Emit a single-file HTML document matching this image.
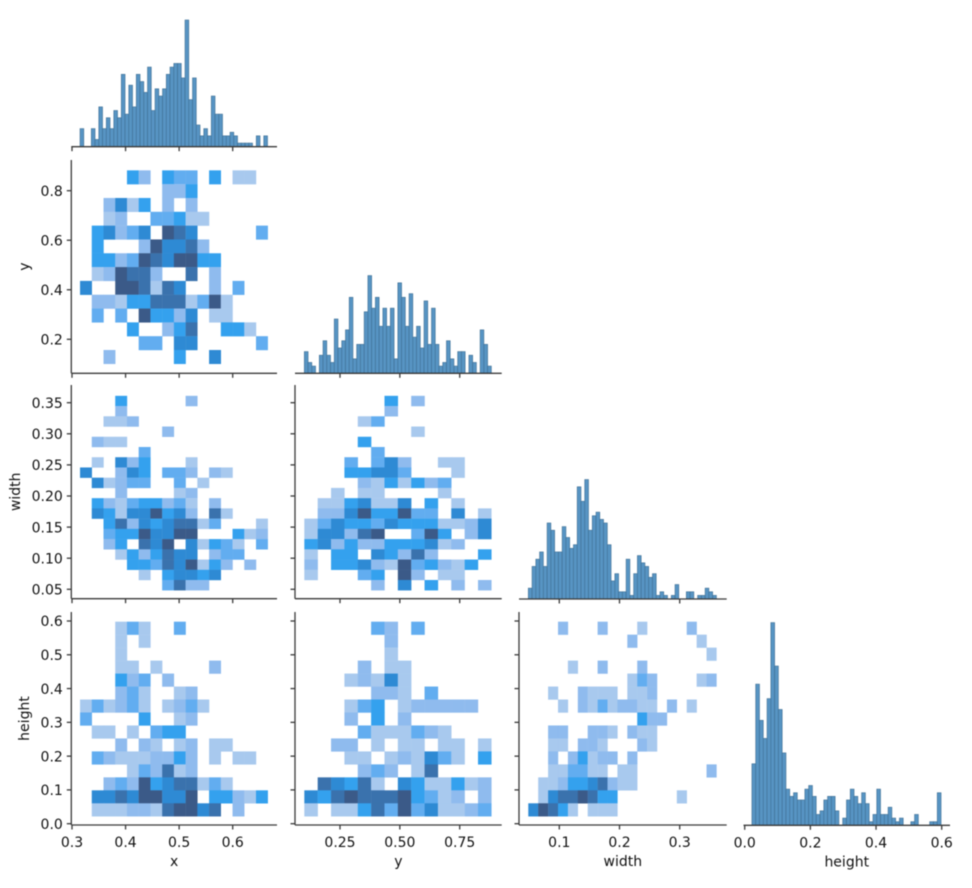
<!DOCTYPE html>
<html lang="en">
<head>
<meta charset="utf-8">
<title>Pair plot of x, y, width, height</title>
<style>
  html, body { margin: 0; padding: 0; background: #fff; }
  #chart { display: block; width: 972px; height: 888px; filter: blur(0.45px); }
  text { font-family: "DejaVu Sans", "Liberation Sans", sans-serif; fill: #111; }
</style>
</head>
<body>
<svg id="chart" xmlns="http://www.w3.org/2000/svg" width="972" height="888" viewBox="0 0 972 888"></svg>
<script>
// ---- axis tick labels
const xTickLabels = ["0.3", "0.4", "0.5", "0.6"];
const yBottomTickLabels = ["0.25", "0.50", "0.75"];
const widthBottomTickLabels = ["0.1", "0.2", "0.3"];
const heightBottomTickLabels = ["0.0", "0.2", "0.4", "0.6"];
const yLeftTickLabels = ["0.2", "0.4", "0.6", "0.8"];
const widthLeftTickLabels = ["0.05", "0.10", "0.15", "0.20", "0.25", "0.30", "0.35"];
const heightLeftTickLabels = ["0.0", "0.1", "0.2", "0.3", "0.4", "0.5", "0.6"];
const variableNames = ["x", "y", "width", "height"];

// ---- histogram counts (50 bins each)
const xHistCounts = [5,0,0,5,2,11,5,8,5,10,8,20,9,17,11,20,18,15,22,10,16,14,16,20,22,23,23,19,35,13,19,6,3,5,3,14,9,9,3,3,4,3,1,1,1,1,0,3,0,3];
const yHistCounts = [6,3,2,0,5,9,5,3,15,7,9,12,21,4,8,8,17,27,18,21,13,18,13,18,4,25,21,13,22,10,13,7,20,8,18,8,2,3,9,4,2,6,6,0,5,3,0,12,8,2];
const widthHistCounts = [3,9,11,13,9,21,19,13,13,20,17,14,15,31,27,33,19,23,24,22,21,15,5,7,2,2,11,1,7,12,10,9,6,7,1,2,1,0,1,4,0,0,2,2,0,1,1,3,2,1];
const heightHistCounts = [17,39,29,24,35,56,44,32,20,10,8,9,7,7,10,11,8,3,4,7,8,8,4,0,2,7,10,8,6,9,6,1,3,10,3,3,5,2,1,2,0,0,1,3,0,0,0,1,1,9];

// ---- heatmap cell levels, rows listed top to bottom
const xyGrid = [
  [0,0,0,0,4,2,0,4,3,3,0,4,0,1,1,0],
  [0,0,0,0,0,0,0,2,2,4,0,0,0,0,0,0],
  [0,0,2,5,1,4,0,2,0,2,0,0,0,0,0,0],
  [0,0,1,2,0,0,3,3,4,1,1,0,0,0,0,0],
  [0,4,5,2,3,5,0,7,6,5,0,0,0,0,0,3],
  [0,4,0,0,0,2,7,5,5,6,2,0,0,0,0,0],
  [0,4,4,2,3,7,6,5,7,7,4,4,0,0,0,0],
  [0,1,2,7,6,6,2,0,0,6,0,2,0,0,0,0],
  [5,0,0,7,7,6,1,6,5,0,0,2,0,3,0,0],
  [0,2,2,1,4,4,6,6,6,1,3,7,1,0,0,0],
  [0,3,0,3,0,7,4,4,2,5,0,1,1,0,0,0],
  [0,0,0,0,4,0,0,2,4,6,0,0,4,4,1,0],
  [0,0,0,0,0,3,3,0,5,5,0,0,0,0,0,3],
  [0,0,2,0,0,0,0,0,4,0,0,5,0,0,0,0]
];
const xWidthGrid = [
  [0,0,0,4,0,0,0,0,0,2,0,0,0,0,0,0],
  [0,0,0,2,0,0,0,0,0,0,0,0,0,0,0,0],
  [0,0,1,1,2,0,0,0,0,0,0,0,0,0,0,0],
  [0,0,0,0,0,0,0,2,0,0,0,0,0,0,0,0],
  [0,2,1,1,0,0,0,0,0,0,0,0,0,0,0,0],
  [0,0,0,0,0,3,0,0,0,0,0,0,0,0,0,0],
  [0,1,0,5,2,4,0,0,0,1,0,0,0,0,0,0],
  [5,0,0,2,5,4,0,3,3,2,0,2,1,0,0,0],
  [0,5,1,2,3,3,0,0,3,0,1,0,0,0,0,0],
  [0,0,0,2,0,0,0,0,1,2,0,0,0,0,0,0],
  [0,4,2,1,3,4,4,2,3,1,0,2,0,0,0,0],
  [0,5,4,1,5,5,7,4,5,2,0,6,1,0,0,0],
  [0,0,4,6,2,5,4,5,6,6,1,3,0,0,0,1],
  [0,0,3,4,4,7,5,5,7,7,0,0,0,4,1,2],
  [0,0,2,4,0,6,5,7,0,5,1,4,3,1,0,3],
  [0,0,0,1,4,2,4,6,5,5,0,2,3,3,0,0],
  [0,0,0,0,4,4,3,6,5,7,1,4,2,0,2,0],
  [0,0,0,0,0,1,0,4,5,5,4,5,0,0,0,0],
  [0,0,0,0,0,0,0,3,6,2,2,0,0,0,0,0]
];
const xHeightGrid = [
  [0,0,0,1,3,1,0,0,3,0,0,0,0,0,0,0],
  [0,0,0,1,0,1,0,0,0,0,0,0,0,0,0,0],
  [0,0,0,1,0,0,0,0,0,0,0,0,0,0,0,0],
  [0,0,0,1,1,0,1,0,0,0,0,2,0,0,0,0],
  [0,0,0,4,2,3,0,2,0,0,0,0,0,0,0,0],
  [0,0,0,2,3,1,0,0,1,2,0,0,0,0,0,0],
  [1,3,1,2,3,1,0,1,2,3,1,0,0,0,0,0],
  [3,0,0,0,0,4,0,0,1,2,0,0,0,0,0,0],
  [0,1,1,0,1,0,3,4,4,0,0,0,0,0,0,0],
  [0,0,0,2,0,2,1,0,1,2,0,1,1,0,0,0],
  [0,3,2,1,1,1,2,2,4,2,0,1,0,1,1,0],
  [0,0,0,0,1,3,2,6,1,2,0,0,0,0,0,0],
  [0,0,2,3,2,7,4,5,6,6,1,3,1,0,0,0],
  [0,5,5,6,5,7,7,5,5,7,0,4,4,2,1,4],
  [0,1,1,1,2,2,1,6,7,7,5,6,0,2,0,0]
];
const yWidthGrid = [
  [0,0,0,0,0,0,4,0,2,0,0,0,0,0],
  [0,0,0,0,0,0,2,0,0,0,0,0,0,0],
  [0,0,0,0,1,3,0,0,0,0,0,0,0,0],
  [0,0,0,0,0,0,0,0,1,0,0,0,0,0],
  [0,0,0,0,4,0,0,0,0,0,0,0,0,0],
  [0,0,0,0,0,3,0,0,0,0,0,0,0,0],
  [0,0,0,3,0,3,5,2,0,0,1,1,0,0],
  [0,0,0,4,4,5,5,3,0,0,0,1,0,0],
  [0,0,0,0,2,1,4,1,4,2,3,0,0,0],
  [0,0,1,0,1,1,0,0,0,0,1,0,0,0],
  [0,1,1,4,5,1,1,5,0,4,0,1,0,0],
  [0,2,2,5,7,4,4,7,3,3,0,5,0,1],
  [1,3,5,4,4,3,5,4,4,4,1,1,2,5],
  [1,5,5,2,6,7,0,0,3,7,4,0,2,5],
  [4,5,2,4,2,2,4,4,4,5,1,2,0,0],
  [1,0,4,4,0,5,4,2,6,2,0,0,0,4],
  [2,0,4,4,5,2,1,7,3,4,2,1,4,0],
  [1,0,0,0,3,4,0,7,2,0,1,1,0,0],
  [0,0,0,0,0,2,0,5,0,4,0,2,0,2]
];
const yHeightGrid = [
  [0,0,0,0,0,3,2,0,3,0,0,0,0,0],
  [0,0,0,0,0,0,2,0,0,0,0,0,0,0],
  [0,0,0,0,0,0,1,0,0,0,0,0,0,0],
  [0,0,0,0,2,0,1,1,0,0,0,0,0,0],
  [0,0,0,1,2,1,5,1,0,0,0,0,0,0],
  [0,0,0,0,0,2,2,1,0,3,0,0,0,0],
  [0,0,0,1,3,4,0,1,2,2,2,2,2,0],
  [0,0,0,2,0,4,0,2,0,0,0,0,0,0],
  [0,0,0,0,3,1,1,1,3,2,1,0,0,0],
  [0,0,2,2,0,1,0,1,1,0,1,1,0,1],
  [0,0,0,1,1,0,1,2,1,5,3,1,0,4],
  [0,0,0,0,2,3,2,0,1,6,0,0,0,0],
  [0,6,5,4,6,1,0,5,4,1,1,4,1,2],
  [5,4,6,7,6,6,6,7,4,3,1,2,0,2],
  [1,0,1,1,4,6,3,7,3,5,1,1,2,3]
];
const widthHeightGrid = [
  [0,0,0,2,0,0,0,2,0,0,0,1,0,0,0,0,2,0,0],
  [0,0,0,0,0,0,0,0,0,0,2,0,0,0,0,0,0,1,0],
  [0,0,0,0,0,0,0,0,0,0,0,0,0,0,0,0,0,0,1],
  [0,0,0,0,1,0,0,2,0,0,0,2,0,0,0,0,0,0,0],
  [0,0,0,0,0,0,0,0,0,0,1,3,2,0,0,0,0,1,2],
  [0,0,1,0,0,2,1,1,1,0,1,1,2,0,0,0,0,0,0],
  [0,0,0,1,0,2,1,3,1,2,2,1,1,0,2,0,1,0,0],
  [0,0,0,0,0,0,0,0,0,0,0,4,2,2,0,0,0,0,0],
  [0,0,2,2,0,0,2,2,1,0,2,1,1,0,0,0,0,0,0],
  [0,0,1,1,0,2,2,1,0,0,0,2,1,0,0,0,0,0,0],
  [0,0,2,0,2,4,1,2,2,0,2,0,0,0,0,0,0,0,0],
  [0,0,1,1,3,3,1,1,0,1,1,0,0,0,0,0,0,0,2],
  [0,1,1,2,4,4,5,6,2,1,1,0,0,0,0,0,0,0,0],
  [0,1,5,6,6,7,6,4,4,0,0,0,0,0,0,1,0,0,0],
  [5,7,6,4,1,0,1,1,1,0,0,0,0,0,0,0,0,0,0]
];

// ---- bin definitions in data units
const xBins = { start: 0.315, width: 0.007 };
const yBins = { start: 0.101, width: 0.015624 };
const widthBins = { start: 0.0485, width: 0.00625 };
const heightBins = { start: 0.022, width: 0.01152 };

// ---- axis functions
function linear(d0, p0, d1, p1) {
  return function (v) { return p0 + (v - d0) * (p1 - p0) / (d1 - d0); };
}
const xAxisX = linear(0.3, 72, 0.6, 232.7);
const yAxisX = linear(0.25, 340, 0.75, 459.7);
const widthAxisX = linear(0.1, 559.3, 0.3, 679.7);
const heightAxisX = linear(0, 744.7, 0.6, 941.7);
const yAxisY = linear(0.2, 339.3, 0.8, 190.7);
const widthAxisY = linear(0.05, 589.3, 0.35, 402.7);
const heightAxisY = linear(0, 823.7, 0.6, 621);
const histPxPerCount = 3.62;

const svg = document.getElementById('chart');
const NS = 'http://www.w3.org/2000/svg';
const heatRamp = ['#ffffff', '#a8c9ee', '#8fbbee', '#62adf0', '#34a1ee', '#2e8ad4', '#3a72ad', '#3b5a88'];
const inkColor = '#3a3a3a';

function make(tag, parent) {
  const el = document.createElementNS(NS, tag);
  parent.appendChild(el);
  return el;
}
function line(parent, x1, y1, x2, y2, name) {
  const el = make('line', parent);
  
  
  el.setAttribute('x1', x1);
  el.setAttribute('y1', y1);
  el.setAttribute('x2', x2);
  el.setAttribute('y2', y2);
  el.setAttribute('stroke', inkColor);
  el.setAttribute('stroke-width', '1.3');
  return el;
}
function label(parent, x, y, str, anchor, name, rotate) {
  const el = make('text', parent);
  
  
  el.setAttribute('x', x);
  el.setAttribute('y', y);
  el.setAttribute('text-anchor', anchor);
  el.setAttribute('font-size', '14');
  if (rotate) el.setAttribute('transform', 'rotate(-90 ' + x + ' ' + y + ')');
  el.textContent = str;
  return el;
}
function group(name) {
  const g = make('g', svg);
  
  
  return g;
}

function drawHist(name, counts, bins, scaleX, baseline, spineX0, spineX1, tickLabels, showLabels, axisName) {
  const g = group(name);
  counts.forEach(function (c, i) {
    if (!c) return;
    const x0 = scaleX(bins.start + i * bins.width);
    const x1 = scaleX(bins.start + (i + 1) * bins.width);
    const r = make('rect', g);
    
    
    r.setAttribute('x', x0);
    r.setAttribute('y', baseline - c * histPxPerCount);
    r.setAttribute('width', x1 - x0);
    r.setAttribute('height', c * histPxPerCount);
    r.setAttribute('fill', '#5794c3');
    r.setAttribute('stroke', '#3f6f94');
    r.setAttribute('stroke-width', '0.6');
  });
  line(g, spineX0, baseline, spineX1, baseline, 'x-axis-line');
  tickLabels.forEach(function (t) {
    const px = scaleX(Number(t));
    line(g, px, baseline, px, baseline + 4.5, 'x-tick');
    if (showLabels) label(g, px, baseline + 22, t, 'middle', 'x-tick-label');
  });
  if (showLabels) label(g, (spineX0 + spineX1) / 2, baseline + 41, axisName, 'middle', 'x-axis-title');
}

function drawHeat(name, grid, xb, yb, scaleX, scaleY, frame, xTicks, yTicks, opts) {
  const g = group(name);
  const rows = grid.length;
  grid.forEach(function (row, r) {
    row.forEach(function (v, c) {
      if (!v) return;
      const x0 = scaleX(xb.start + c * xb.width);
      const x1 = scaleX(xb.start + (c + 1) * xb.width);
      const yTop = scaleY(yb.start + (rows - r) * yb.width);
      const yBot = scaleY(yb.start + (rows - r - 1) * yb.width);
      const cell = make('rect', g);
      
      
      cell.setAttribute('x', x0);
      cell.setAttribute('y', yTop);
      cell.setAttribute('width', x1 - x0 + 0.2);
      cell.setAttribute('height', yBot - yTop + 0.2);
      cell.setAttribute('fill', heatRamp[Math.max(0, Math.min(heatRamp.length - 1, Math.round(v)))]);
    });
  });
  line(g, frame.left, frame.top, frame.left, frame.bottom, 'y-axis-line');
  line(g, frame.left, frame.bottom, frame.right, frame.bottom, 'x-axis-line');
  xTicks.forEach(function (t) {
    const px = scaleX(Number(t));
    line(g, px, frame.bottom, px, frame.bottom + 4.5, 'x-tick');
    if (opts.xLabels) label(g, px, frame.bottom + 22, t, 'middle', 'x-tick-label');
  });
  yTicks.forEach(function (t) {
    const py = scaleY(Number(t));
    line(g, frame.left - 4.5, py, frame.left, py, 'y-tick');
    if (opts.yLabels) label(g, frame.left - 8.5, py + 5.2, t, 'end', 'y-tick-label');
  });
  if (opts.xTitle) label(g, (frame.left + frame.right) / 2, frame.bottom + 41, opts.xTitle, 'middle', 'x-axis-title');
  if (opts.yTitle) label(g, opts.yTitleX, (frame.top + frame.bottom) / 2, opts.yTitle, 'middle', 'y-axis-title', true);
}

const col1 = { left: 71.3, right: 277 };
const col2 = { left: 295, right: 501.7 };
const col3 = { left: 519, right: 726.7 };
const col4 = { left: 743.5, right: 950 };
const row2 = { top: 160, bottom: 373.3 };
const row3 = { top: 385, bottom: 598.7 };
const row4 = { top: 612, bottom: 825 };

function frameOf(col, row) {
  return { left: col.left, right: col.right, top: row.top, bottom: row.bottom };
}

drawHist('hist-x', xHistCounts, xBins, xAxisX, 146.7, col1.left, col1.right, xTickLabels, false, variableNames[0]);
drawHist('hist-y', yHistCounts, yBins, yAxisX, 373.3, col2.left, col2.right, yBottomTickLabels, false, variableNames[1]);
drawHist('hist-width', widthHistCounts, widthBins, widthAxisX, 599, col3.left, col3.right, widthBottomTickLabels, false, variableNames[2]);
drawHist('hist-height', heightHistCounts, heightBins, heightAxisX, 825.3, col4.left, col4.right, heightBottomTickLabels, true, variableNames[3]);

const binsXGrid = { start: 0.315, width: 0.0219 };
const binsYGrid = { start: 0.101, width: 0.0558 };
const binsWidthGrid = { start: 0.0485, width: 0.01645 };
const binsHeightGrid = { start: 0.022, width: 0.0384 };

drawHeat('heatmap-x-y', xyGrid, binsXGrid, binsYGrid, xAxisX, yAxisY, frameOf(col1, row2), xTickLabels, yLeftTickLabels,
  { yLabels: true, yTitle: variableNames[1], yTitleX: 29 });
drawHeat('heatmap-x-width', xWidthGrid, binsXGrid, binsWidthGrid, xAxisX, widthAxisY, frameOf(col1, row3), xTickLabels, widthLeftTickLabels,
  { yLabels: true, yTitle: variableNames[2], yTitleX: 20 });
drawHeat('heatmap-x-height', xHeightGrid, binsXGrid, binsHeightGrid, xAxisX, heightAxisY, frameOf(col1, row4), xTickLabels, heightLeftTickLabels,
  { yLabels: true, xLabels: true, xTitle: variableNames[0], yTitle: variableNames[3], yTitleX: 29 });
drawHeat('heatmap-y-width', yWidthGrid, binsYGrid, binsWidthGrid, yAxisX, widthAxisY, frameOf(col2, row3), yBottomTickLabels, widthLeftTickLabels, {});
drawHeat('heatmap-y-height', yHeightGrid, binsYGrid, binsHeightGrid, yAxisX, heightAxisY, frameOf(col2, row4), yBottomTickLabels, heightLeftTickLabels,
  { xLabels: true, xTitle: variableNames[1] });
drawHeat('heatmap-width-height', widthHeightGrid, binsWidthGrid, binsHeightGrid, widthAxisX, heightAxisY, frameOf(col3, row4), widthBottomTickLabels, heightLeftTickLabels,
  { xLabels: true, xTitle: variableNames[2] });
</script>
</body>
</html>
